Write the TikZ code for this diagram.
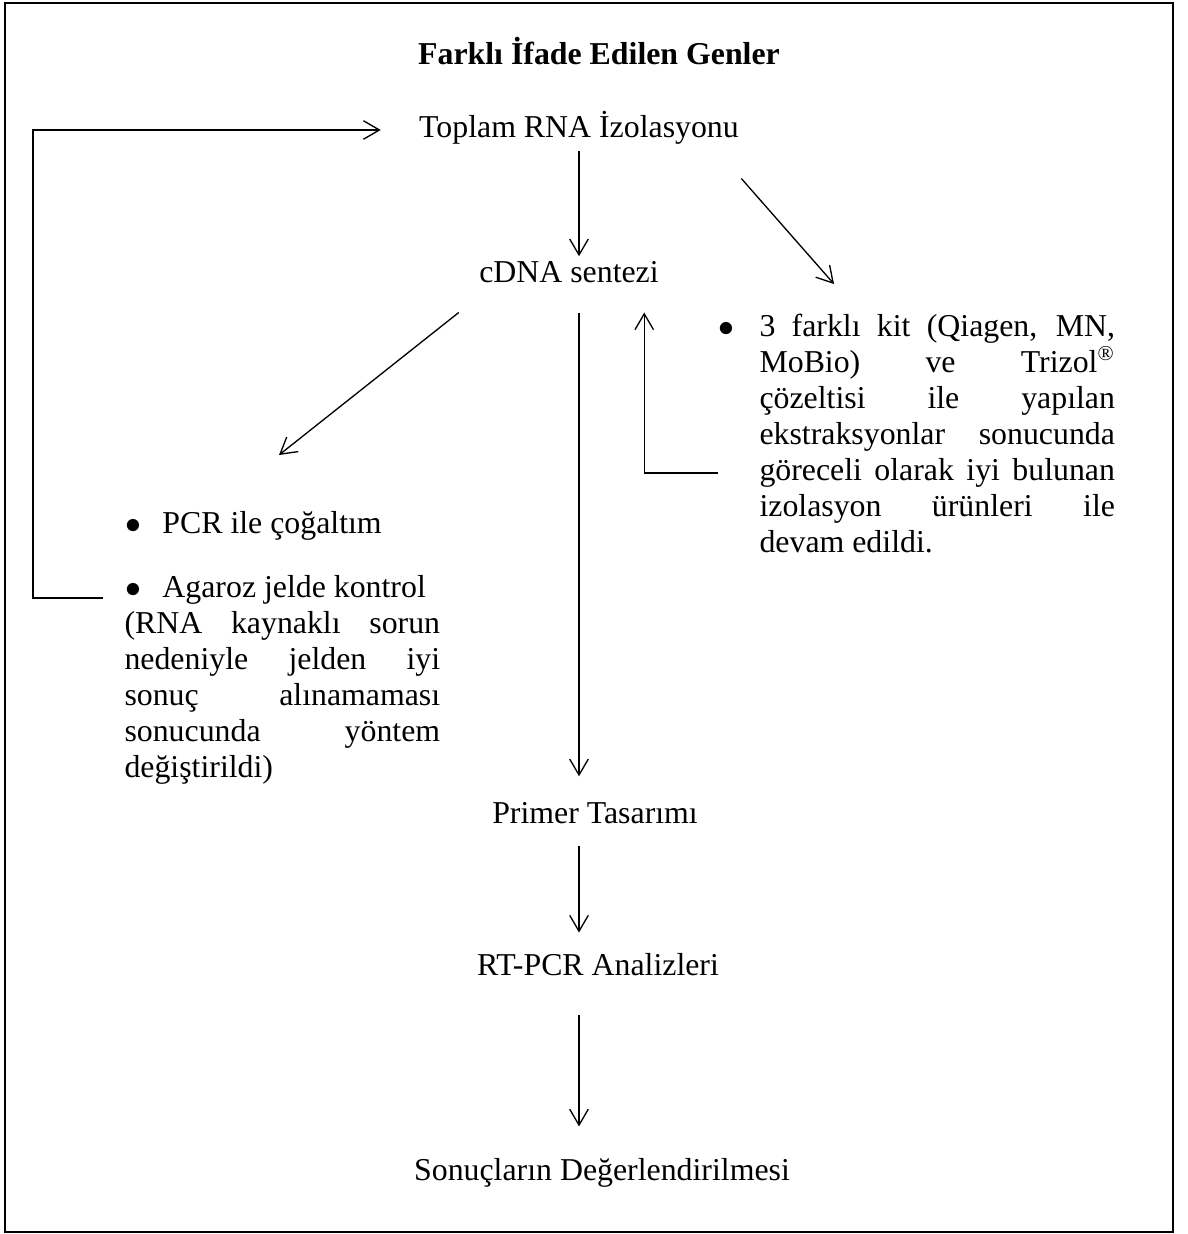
\documentclass[12pt,tikz,border=0pt]{standalone}
\usepackage{fontspec}
\setmainfont{Liberation Serif}
\usetikzlibrary{arrows.meta,calc}

\begin{document}
\begin{tikzpicture}[x=0.377pt,y=-0.377pt,
  stage/.style={inner sep=0,text height=8pt,text depth=3pt,anchor=base},
  bullet/.style={inner sep=0,anchor=base west},
  note/.style={inner sep=0,anchor=base west,align=justify,font=\fontsize{12}{13.6}\selectfont},
  arr/.style={-{Straight Barb[length=6pt,width=7pt]},line width=0.5pt},
  frame/.style={line width=1pt}]

\useasboundingbox (0,0) rectangle (1187,1234);
\draw[frame] (5,3) rectangle (1173,1232);

\node[stage,font=\bfseries] (title) at (599,64) {Farklı İfade Edilen Genler};
\node[stage] (toplam) at (579,137) {Toplam RNA İzolasyonu};
\node[stage] (cdna) at (569,282) {cDNA sentezi};
\node[stage] (primer) at (595,823) {Primer Tasarımı};
\node[stage] (rtpcr) at (598,975) {RT-PCR Analizleri};
\node[stage] (sonuc) at (602,1180) {Sonuçların Değerlendirilmesi};

\node[bullet] (pcr) at (124,533) {\makebox[14.3pt][l]{\hspace{0.3pt}$\bullet$}PCR ile çoğaltım};
\node[note,text width=119pt] (agaroz) at (124,597)
  {\makebox[14.3pt][l]{\hspace{0.3pt}$\bullet$}Agaroz jelde kontrol\newline
   (RNA kaynaklı sorun\linebreak nedeniyle jelden iyi\linebreak
   sonuç alınamaması\linebreak sonucunda yöntem\linebreak değiştirildi)};
\node[note,text width=134pt] (kitinfo) at (759,336)
  {\llap{$\bullet$\hspace{9.3pt}}3 farklı kit (Qiagen, MN,\linebreak
   MoBio) ve Trizol\textsuperscript{®}\linebreak çözeltisi ile yapılan\linebreak
   ekstraksyonlar sonucunda\linebreak göreceli olarak iyi bulunan\linebreak
   izolasyon ürünleri ile\linebreak devam edildi.};

% main column
\draw[arr,shorten <=1.9pt,shorten >=1.5pt] (toplam.south) -- (toplam.south |- cdna.north);
\draw[arr,shorten <=8.3pt,shorten >=9.4pt] (cdna.south -| toplam) -- (primer.north -| toplam);
\draw[arr,shorten <=5.3pt,shorten >=7.8pt] (primer.south -| toplam) -- (rtpcr.north -| toplam);
\draw[arr,shorten <=11.7pt,shorten >=12pt] (rtpcr.south -| toplam) -- (sonuc.north -| toplam);

% side branches
\draw[arr] ($(toplam.south east)+(2,33)$) -- ($(kitinfo.base west)+(75,-52)$);
\draw[arr] ($(cdna.south west)+(-20,22)$) -- ($(pcr.base west)+(155,-78)$);
\draw[arr] ($(kitinfo.base west)+(-41,137)$) -| ($(cdna.south east)+(-15,22)$);
\draw[arr] ($(agaroz.base west)+(-21,1)$) -- ++(-70,0) |- ($(toplam.base west)+(-38,-7)$);

\end{tikzpicture}
\end{document}
